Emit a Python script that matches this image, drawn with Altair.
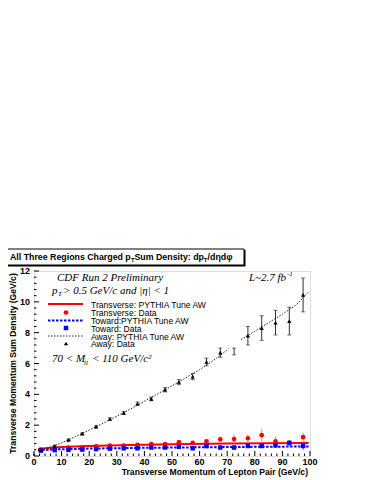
import altair as alt
import pandas as pd

# ---------------- data ----------------
pt_bins = [2.5, 7.5, 12.5, 17.5, 22.5, 27.5, 32.5, 37.5, 42.5, 47.5,
           52.5, 57.5, 62.5, 67.5, 72.5, 77.5, 82.5, 87.5, 92.5, 97.5]

trans_data = [0.42, 0.50, 0.55, 0.56, 0.62, 0.68, 0.68, 0.72, 0.78, 0.78,
              0.90, 0.85, 0.95, 1.08, 1.10, 1.15, 1.35, 0.95, 0.85, 1.22]
trans_err = [0.03, 0.03, 0.04, 0.04, 0.05, 0.05, 0.06, 0.07, 0.08, 0.09,
             0.10, 0.12, 0.14, 0.18, 0.30, 0.25, 0.40, 0.30, 0.20, 0.30]

toward_data = [0.35, 0.38, 0.40, 0.42, 0.45, 0.48, 0.50, 0.50, 0.55, 0.55,
               0.60, 0.50, 0.65, 0.55, 0.55, 0.65, 0.65, 0.70, 0.85, 0.65]
toward_err = [0.03, 0.03, 0.03, 0.04, 0.04, 0.05, 0.05, 0.06, 0.06, 0.07,
              0.08, 0.09, 0.10, 0.10, 0.12, 0.12, 0.14, 0.15, 0.15, 0.25]

away_data = [0.40, 0.65, 1.05, 1.45, 1.90, 2.40, 2.80, 3.40, 3.70, 4.30,
             4.80, 5.15, 6.10, 6.70, 6.78, 7.80, 8.30, 8.65, 8.75, 10.45]
away_err = [0.04, 0.05, 0.05, 0.06, 0.07, 0.08, 0.09, 0.10, 0.12, 0.14,
            0.17, 0.20, 0.25, 0.30, 0.22, 0.60, 0.80, 0.80, 0.90, 1.10]
away_marker = [True] * 14 + [False] + [True] * 5

theory_x = [1.5, 5, 10, 20, 35, 50, 70, 85, 99.5]
trans_pythia = [0.46, 0.52, 0.58, 0.65, 0.71, 0.76, 0.81, 0.83, 0.85]
toward_pythia = [0.37, 0.40, 0.44, 0.48, 0.52, 0.55, 0.58, 0.60, 0.62]

away_pythia_x = [1.5, 5, 10, 15, 20, 25, 30, 35, 40, 45, 50, 55, 60, 65, 70.5,
                 75, 80, 85, 90, 95, 99.5]
away_pythia = [0.38, 0.52, 0.86, 1.26, 1.68, 2.12, 2.58, 3.05, 3.55, 4.05, 4.55,
               5.07, 5.60, 6.20, 6.95, 7.55, 8.10, 8.65, 9.20, 9.80, 10.65]
away_pythia_seg = [0] * 15 + [1] * 6

x_major = [0, 10, 20, 30, 40, 50, 60, 70, 80, 90, 100]
x_minor = [0, 2, 4, 6, 8, 12, 14, 16, 18, 22, 24, 26, 28, 32, 34, 36, 38,
           42, 44, 46, 48, 52, 54, 56, 58, 62, 64, 66, 68, 72, 74, 76, 78,
           82, 84, 86, 88, 92, 94, 96, 98]
y_major = [0, 2, 4, 6, 8, 10, 12]
y_minor = [0.4, 0.8, 1.2, 1.6, 2.4, 2.8, 3.2, 3.6, 4.4, 4.8, 5.2, 5.6,
           6.4, 6.8, 7.2, 7.6, 8.4, 8.8, 9.2, 9.6, 10.4, 10.8, 11.2, 11.6]

x_title = "Transverse Momentum of Lepton Pair (GeV/c)"
y_title = "Transverse Momentum Sum Density (GeV/c)"

W, H = 276, 185
SANS = "Liberation Sans"
SERIF = "Liberation Serif"

xs = alt.Scale(domain=[0, 100], nice=False)
ys = alt.Scale(domain=[0, 12], nice=False)

def X(f):
    return alt.X(f, scale=xs, axis=None)

def Y(f):
    return alt.Y(f, scale=ys, axis=None)

pts = pd.DataFrame({
    "pt": pt_bins,
    "trans": trans_data,
    "trans_lo": [a - b for a, b in zip(trans_data, trans_err)],
    "trans_hi": [a + b for a, b in zip(trans_data, trans_err)],
    "toward": toward_data,
    "toward_lo": [a - b for a, b in zip(toward_data, toward_err)],
    "toward_hi": [a + b for a, b in zip(toward_data, toward_err)],
    "away": away_data,
    "away_lo": [a - b for a, b in zip(away_data, away_err)],
    "away_hi": [a + b for a, b in zip(away_data, away_err)],
    "marker": away_marker,
})
theory = pd.DataFrame({"pt": theory_x, "trans": trans_pythia, "toward": toward_pythia})
away_th = pd.DataFrame({"pt": away_pythia_x, "away": away_pythia, "seg": away_pythia_seg})

base = alt.Chart(pts)

# axis ticks (inward, ROOT style) and labels
def ticks_x(vals, ln):
    return alt.Chart(pd.DataFrame({"v": vals})).mark_rule(color="black", strokeWidth=1).encode(
        x=X("v:Q"), y=alt.value(H), y2=alt.value(H - ln))

def ticks_y(vals, ln):
    return alt.Chart(pd.DataFrame({"v": vals})).mark_rule(color="black", strokeWidth=1).encode(
        y=Y("v:Q"), x=alt.value(0), x2=alt.value(ln))

x_labels = alt.Chart(pd.DataFrame({"v": x_major})).mark_text(
    font=SANS, fontWeight="bold", fontSize=9, baseline="top", align="center", color="black").encode(
    x=X("v:Q"), y=alt.value(H + 1.5), text=alt.Text("v:Q", format="d"))
y_labels = alt.Chart(pd.DataFrame({"v": y_major})).mark_text(
    font=SANS, fontWeight="bold", fontSize=9, baseline="middle", align="right", color="black").encode(
    y=Y("v:Q"), x=alt.value(-4), text=alt.Text("v:Q", format="d"))

# theory curves
trans_line = alt.Chart(theory).mark_line(color="#ff0000", strokeWidth=2).encode(
    x=X("pt:Q"), y=Y("trans:Q"))
toward_line = alt.Chart(theory).mark_line(color="#0000ff", strokeWidth=2, strokeDash=[2.5, 1.5]).encode(
    x=X("pt:Q"), y=Y("toward:Q"))
away_line = alt.Chart(away_th).mark_line(color="#222222", strokeWidth=1, strokeDash=[1.5, 1.5]).encode(
    x=X("pt:Q"), y=Y("away:Q"), detail="seg:N")

# error bars
def errbar(lo, hi, color, caps=False):
    r = base.mark_rule(color=color, strokeWidth=1).encode(
        x=X("pt:Q"), y=Y(f"{lo}:Q"), y2=f"{hi}:Q")
    if not caps:
        return r
    c1 = base.mark_tick(color=color, orient="horizontal", size=4, thickness=1).encode(
        x=X("pt:Q"), y=Y(f"{lo}:Q"))
    c2 = base.mark_tick(color=color, orient="horizontal", size=4, thickness=1).encode(
        x=X("pt:Q"), y=Y(f"{hi}:Q"))
    return r + c1 + c2

trans_err_l = errbar("trans_lo", "trans_hi", "#ff8080")
toward_err_l = errbar("toward_lo", "toward_hi", "#4040ff")
away_err_l = errbar("away_lo", "away_hi", "#333333", caps=True)

trans_pts = base.mark_point(shape="circle", filled=True, size=22, color="#ff0000", opacity=1).encode(
    x=X("pt:Q"), y=Y("trans:Q"))
toward_pts = base.mark_point(shape="square", filled=True, size=20, color="#0000ff", opacity=1).encode(
    x=X("pt:Q"), y=Y("toward:Q"))
away_pts = base.transform_filter("datum.marker").mark_point(
    shape="triangle-up", filled=True, size=18, color="black", opacity=1).encode(
    x=X("pt:Q"), y=Y("away:Q"))

one = pd.DataFrame({"a": [0]})

def txt(s, x, y, size, font=SANS, style="normal", weight="normal", align="left",
        color="black", angle=0, baseline="alphabetic"):
    return alt.Chart(pd.DataFrame({"t": [s]})).mark_text(
        align=align, baseline=baseline, fontSize=size, font=font, angle=angle,
        fontStyle=style, fontWeight=weight, color=color).encode(
        x=alt.value(x), y=alt.value(y), text="t:N")

axis_titles = [
    txt(x_title, W - 2, 203.5, 8.6, weight="bold", align="right"),
    txt(y_title, -21, H / 2, 8.6, weight="bold", align="center", angle=270, baseline="middle"),
]

# title box (with shadow)
shadow = alt.Chart(one).mark_rect(color="black").encode(
    x=alt.value(-29), x2=alt.value(211.5), y=alt.value(-21), y2=alt.value(-4.5))
box = alt.Chart(one).mark_rect(fill="white", stroke="black", strokeWidth=1).encode(
    x=alt.value(-30.5), x2=alt.value(210), y=alt.value(-22), y2=alt.value(-6))
TS = 8.8
title_layers = [
    shadow, box,
    txt("All Three Regions Charged p", -24, -11, TS, weight="bold"),
    txt("T", 97.0, -9.5, 6, weight="bold"),
    txt(" Sum Density: dp", 100.5, -11, TS, weight="bold"),
    txt("T", 169.8, -9.5, 6, weight="bold"),
    txt("/dηdφ", 173.6, -11, TS, weight="bold"),
]

# in-plot annotations
ann = [
    txt("CDF Run 2 Preliminary", 23, 10, 11, font=SERIF, style="italic"),
    txt("p", 18, 23, 11, font=SERIF, style="italic"),
    txt("T", 24, 25, 7, font=SERIF, style="italic"),
    txt("> 0.5  GeV/c and |η| < 1", 29, 23, 11, font=SERIF, style="italic"),
    txt("70 < M", 18, 91, 11, font=SERIF, style="italic"),
    txt("ll", 50, 94, 7, font=SERIF, style="italic"),
    txt("< 110 GeV/c²", 58, 91, 11, font=SERIF, style="italic"),
    txt("L~2.7 fb", 252, 10, 11, font=SERIF, style="italic", align="right"),
    txt("-1", 253, 5, 7, font=SERIF, style="italic"),
]

# legend
LX = 57
LS = 8.6
leg = [
    alt.Chart(one).mark_rule(color="#ff0000", strokeWidth=2).encode(
        x=alt.value(14), x2=alt.value(49), y=alt.value(33)),
    txt("Transverse: PYTHIA Tune AW", LX, 36.5, LS),
    alt.Chart(one).mark_point(shape="circle", filled=True, size=22, color="#ff0000", opacity=1).encode(
        x=alt.value(32), y=alt.value(41.5)),
    txt(" Transverse: Data", LX, 44.5, LS),
    alt.Chart(one).mark_rule(color="#0000ff", strokeWidth=2, strokeDash=[2.5, 1.5]).encode(
        x=alt.value(14), x2=alt.value(49), y=alt.value(49.5)),
    txt("Toward:PYTHIA Tune AW", LX, 52.5, LS),
    alt.Chart(one).mark_point(shape="square", filled=True, size=20, color="#0000ff", opacity=1).encode(
        x=alt.value(32), y=alt.value(57)),
    txt("Toward: Data", LX, 60.5, LS),
    alt.Chart(one).mark_rule(color="#222222", strokeWidth=1, strokeDash=[1.5, 1.5]).encode(
        x=alt.value(14), x2=alt.value(49), y=alt.value(65)),
    txt("Away: PYTHIA Tune AW", LX, 68.5, LS),
    alt.Chart(one).mark_point(shape="triangle-up", filled=True, size=18, color="black", opacity=1).encode(
        x=alt.value(32), y=alt.value(72.5)),
    txt("Away: Data", LX, 76, LS),
]

chart = alt.layer(
    ticks_x(x_minor, 2.5), ticks_x(x_major, 5),
    ticks_y(y_minor, 2.5), ticks_y(y_major, 5),
    x_labels, y_labels, *axis_titles,
    trans_line, toward_line, away_line,
    trans_err_l, toward_err_l, away_err_l,
    trans_pts, toward_pts, away_pts,
    *title_layers, *ann, *leg,
).properties(
    width=W, height=H,
    autosize=alt.AutoSizeParams(type="none"),
    padding={"left": 26, "top": 263, "right": 40, "bottom": 22},
).configure_view(
    stroke="black", strokeWidth=1
).configure(background="white")

chart.save("out.html", embed_options={"renderer": "svg", "actions": False})
